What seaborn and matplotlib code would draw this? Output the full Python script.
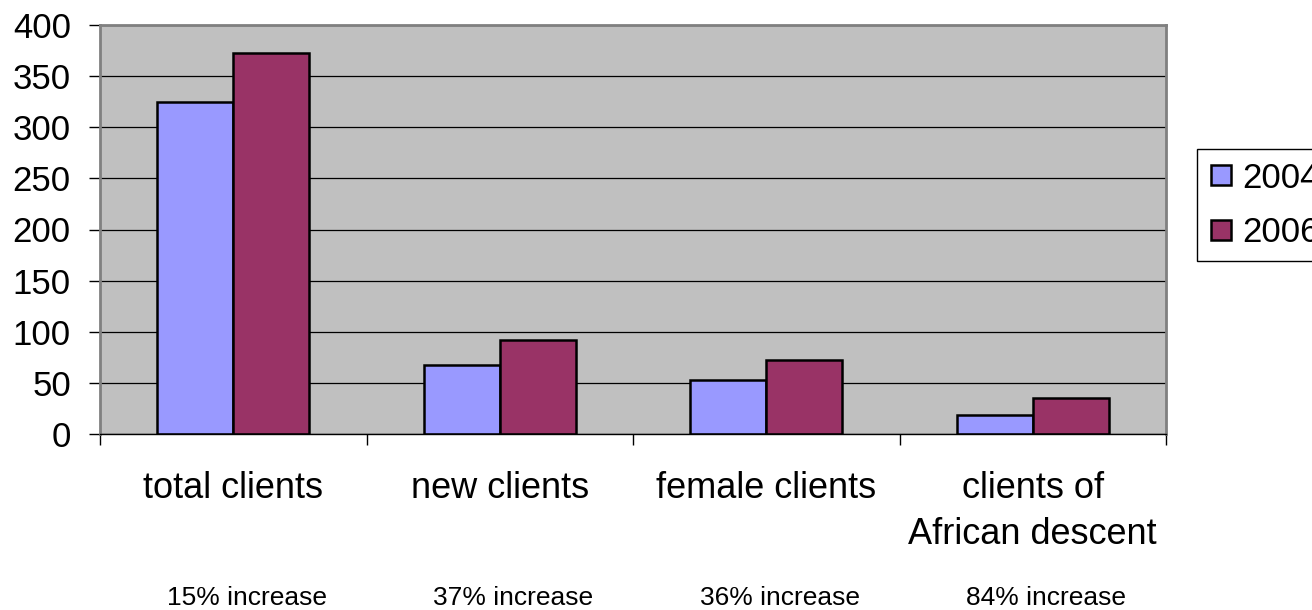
import matplotlib
matplotlib.use("Agg")
import matplotlib.pyplot as plt
from matplotlib.lines import Line2D
from matplotlib.transforms import blended_transform_factory
import pandas as pd
import seaborn as sns

# Client counts by category, 2004 vs 2006
categories = ["total clients", "new clients", "female clients", "clients of\nAfrican descent"]
clients_2004 = [325, 67, 53, 19]
clients_2006 = [373, 92, 72, 35]
years = ["2004", "2006"]
increase_labels = ["15% increase", "37% increase", "36% increase", "84% increase"]
y_ticks = [0, 50, 100, 150, 200, 250, 300, 350, 400]

colors = {"2004": "#9999FF", "2006": "#993366"}

df = pd.DataFrame({
    "category": categories * 2,
    "clients": clients_2004 + clients_2006,
    "year": [years[0]] * len(categories) + [years[1]] * len(categories),
})

sns.set_style("white")
plt.rcParams["font.family"] = ["Liberation Sans", "DejaVu Sans"]
plt.rcParams["text.color"] = "black"
plt.rcParams["xtick.color"] = "black"
plt.rcParams["ytick.color"] = "black"
plt.rcParams["axes.labelcolor"] = "black"

W, H = 1312, 610
fig = plt.figure(figsize=(W / 100, H / 100), dpi=100)
ax = fig.add_axes([100 / W, 1 - 434 / H, (1166 - 100) / W, (434 - 25) / H])
ax.set_facecolor("#C0C0C0")

sns.barplot(data=df, x="category", y="clients", hue="year", order=categories,
            hue_order=years, palette=colors, width=0.57, gap=0,
            edgecolor="black", linewidth=1.8, saturation=1, legend=False, ax=ax)

ax.set_xlim(-0.5, len(categories) - 0.5)
ax.set_ylim(0, 400)
ax.set_yticks(y_ticks)
ax.yaxis.grid(True, color="black", linewidth=0.9)
ax.set_axisbelow(True)
ax.set_xlabel("")
ax.set_ylabel("")

# Frame: grey plot-area border, black baseline
for side in ["left", "top", "right"]:
    ax.spines[side].set_visible(True)
    ax.spines[side].set_color("#808080")
    ax.spines[side].set_linewidth(2)
ax.spines["bottom"].set_visible(True)
ax.spines["bottom"].set_color("black")
ax.spines["bottom"].set_linewidth(1)

ax.tick_params(axis="y", which="major", direction="out", length=8, width=1,
               color="black", labelcolor="black", pad=13, labelsize=25, left=True)
# Category labels centred under each group, tick marks on the group boundaries
ax.set_xticks(range(len(categories)))
ax.set_xticklabels(categories)
ax.tick_params(axis="x", which="major", length=0, pad=27, labelsize=26,
               labelcolor="black")
ax.set_xticks([i - 0.5 for i in range(len(categories) + 1)], minor=True)
ax.tick_params(axis="x", which="minor", direction="out", length=8, width=1,
               color="black", bottom=True)
for lab in ax.get_xticklabels():
    lab.set_linespacing(1.4)

# Percent change notes under each category
trans = blended_transform_factory(ax.transData, ax.transAxes)
for i, txt in enumerate(increase_labels):
    ax.text(i + 0.05, -0.401, txt, transform=trans, ha="center", va="center",
            fontsize=19, color="black")

handles = [Line2D([0], [0], marker="s", linestyle="none", markersize=14.5,
                  markerfacecolor=colors[y], markeredgecolor="black",
                  markeredgewidth=1.8) for y in years]
leg = fig.legend(handles, years, loc="upper left",
                 bbox_to_anchor=(1197 / W, 1 - 149 / H), fontsize=25,
                 frameon=True, fancybox=False, edgecolor="black",
                 facecolor="white", framealpha=1, borderpad=0.36,
                 labelspacing=0.61, handlelength=0.65, handletextpad=0.29,
                 borderaxespad=0)
leg.get_frame().set_linewidth(1)
for t in leg.get_texts():
    t.set_color("black")

fig.savefig("out.png", dpi=100, facecolor="white")
